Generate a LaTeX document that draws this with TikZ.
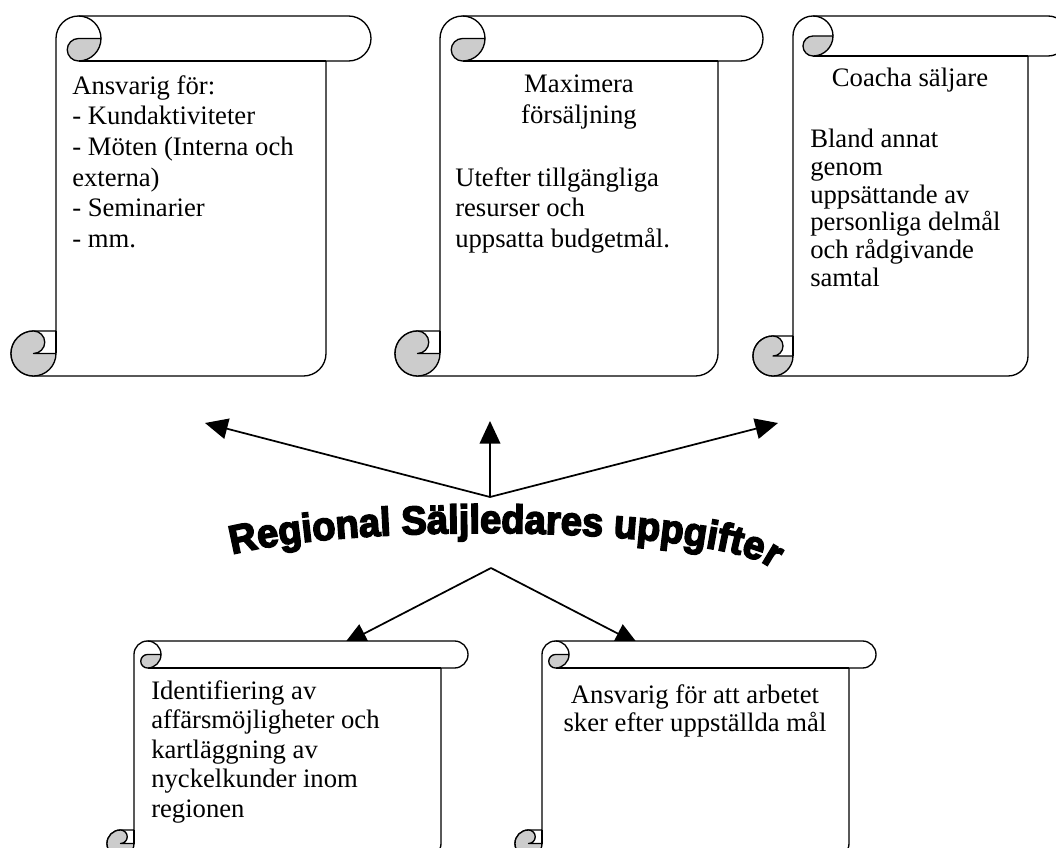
\documentclass[tikz,border=0pt]{standalone}
\usepackage{fontspec}
\setmainfont{Liberation Serif}
\usetikzlibrary{arrows.meta,decorations.text}
\font\wafont="Liberation Sans Bold:embolden=4;extend=0.95" at 30pt
\definecolor{scrollgray}{RGB}{204,204,204}
\tikzset{
  scrollline/.style={draw=black,line width=1pt,line join=round},
  txt/.style={inner sep=0pt,font=\fontsize{20}{23}\selectfont},
  arr/.style={line width=1.3pt,-{Triangle[length=17pt,width=15.5pt]}},
}
% vertical scroll: left, top, right, bottom, roll size (pixel units, y down)
\newcommand\vscroll[5]{%
  \pgfmathsetmacro\sL{#1}\pgfmathsetmacro\sT{#2}%
  \pgfmathsetmacro\sR{#3}\pgfmathsetmacro\sB{#4}%
  \pgfmathsetmacro\sc{#5}\pgfmathsetmacro\sh{#5/2}\pgfmathsetmacro\sq{#5/4}%
  \path[scrollline,fill=white] (\sL+\sh,\sB) -- (\sR-\sc-\sh,\sB)
    arc[start angle=90,end angle=0,radius=\sh]
    -- (\sR-\sc,\sT+\sc) -- (\sR-\sh,\sT+\sc)
    arc[start angle=90,end angle=-90,radius=\sh]
    -- (\sL+1.5*\sc,\sT)
    arc[start angle=-90,end angle=-180,radius=\sh]
    -- (\sL+\sc,\sB-\sc) -- (\sL+\sh,\sB-\sc)
    arc[start angle=-90,end angle=-270,radius=\sh] -- cycle;
  \draw[scrollline] (\sL+1.5*\sc,\sT+\sc) -- (\sR-\sc,\sT+\sc);
  \draw[scrollline] (\sL+1.5*\sc,\sT) arc[start angle=-90,end angle=0,radius=\sh];
  \draw[scrollline,fill=scrollgray] (\sL+1.5*\sc,\sT+\sh) -- (\sL+2*\sc,\sT+\sh)
    arc[start angle=0,end angle=90,radius=\sh]
    arc[start angle=90,end angle=270,radius=\sq] -- cycle;
  \draw[scrollline] (\sL+\sc,\sB-\sc) -- (\sL+\sc,\sB-\sh);
  \draw[scrollline,fill=scrollgray] (\sL+\sc,\sB-\sh)
    arc[start angle=0,end angle=270,radius=\sh]
    arc[start angle=-90,end angle=90,radius=\sq] -- cycle;
}
\begin{document}
\begin{tikzpicture}[x=0.75pt,y=-0.75pt]
\useasboundingbox (0,0) rectangle (1056,848);
\clip (0,0) rectangle (1056,848);

% hubs and arrow ends
\coordinate (hubT) at (490,497);
\coordinate (hubB) at (491,568);
\coordinate (tipL) at (205,423);
\coordinate (tipM) at (490,421);
\coordinate (tipR) at (778,423);
\coordinate (tipBL) at (344,644);
\coordinate (tipBR) at (638,644);

\draw[arr] (hubT) -- (tipL);
\draw[arr] (hubT) -- (tipM);
\draw[arr] (hubT) -- (tipR);
\draw[arr] (hubB) -- (tipBL);
\draw[arr] (hubB) -- (tipBR);

% scrolls
\vscroll{11}{16}{371}{376}{45}
\vscroll{395}{16}{763}{376}{45}
\vscroll{753}{16}{1068}{376}{40}
\vscroll{107}{641}{468}{857}{27}
\vscroll{515}{641}{876}{857}{27}

% texts
\node[txt,anchor=north west,align=left] (t1) at (72,75)
  {Ansvarig för:\\- Kundaktiviteter\\- Möten (Interna och\\externa)\\- Seminarier\\- mm.};
\node[txt,anchor=north,align=center] (t2a) at (579,75) {Maximera\\försäljning};
\node[txt,anchor=north west,align=left] (t2b) at (455,167)
  {Utefter tillgängliga\\resurser och\\uppsatta budgetmål.};
\node[txt,anchor=north,align=center] (t3a) at (910,68) {Coacha säljare};
\node[txt,anchor=north west,align=left,font=\fontsize{20}{20.8}\selectfont] (t3b) at (810,129)
  {Bland annat\\genom\\uppsättande av\\personliga delmål\\och rådgivande\\samtal};
\node[txt,anchor=north west,align=left,font=\fontsize{20}{22.2}\selectfont] (t4) at (151,680)
  {Identifiering av\\affärsmöjligheter och\\kartläggning av\\nyckelkunder inom\\regionen};
\node[txt,anchor=north,align=center,font=\fontsize{20}{21.2}\selectfont] (t5) at (695,684)
  {Ansvarig för att arbetet\\sker efter uppställda mål};

% arched title
\path[decorate,decoration={text along path,
    text={|\wafont|Regional Säljledares uppgifter},text align=center}]
  (233,554.2) arc[start angle=-150.3,end angle=-8,x radius=290,y radius=42];
\end{tikzpicture}
\end{document}
